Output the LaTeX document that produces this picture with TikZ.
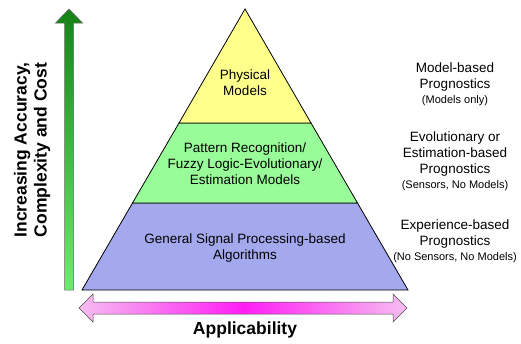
\documentclass[tikz,border=0pt]{standalone}
\usepackage{fontspec}
\setmainfont{Liberation Sans}
\setsansfont{Liberation Sans}
\usepackage{xcolor}
\usetikzlibrary{positioning, calc}

\definecolor{lvlyellow}{RGB}{255,255,140}
\definecolor{lvlgreen}{RGB}{152,252,152}
\definecolor{lvlblue}{RGB}{164,168,236}
\definecolor{arrdark}{RGB}{22,130,22}
\definecolor{arrlight}{RGB}{110,235,110}
\definecolor{pinklight}{RGB}{246,190,240}
\definecolor{pinkhot}{RGB}{255,30,245}

\tikzset{
  level/.style={draw=black, line width=0.8pt, line join=miter},
  lbl/.style={align=center, font=\sffamily\fontsize{13.5}{16}\selectfont},
  side/.style={align=center, font=\sffamily\fontsize{13.5}{16}\selectfont},
  axis/.style={align=center, font=\sffamily\bfseries\fontsize{17.5}{20}\selectfont}
}
\newcommand{\smallnote}[1]{{\fontsize{11}{13}\selectfont #1}}

\begin{document}
\begin{tikzpicture}[x=1pt, y=-1pt]
    \useasboundingbox (0,0) rectangle (521,343);
    % pyramid levels
    \draw[level, fill=lvlblue] (82,290) -- (408,290) -- (357.5,203) -- (132.5,203) -- cycle;
    \draw[level, fill=lvlgreen] (132.5,203) -- (357.5,203) -- (311,123) -- (179,123) -- cycle;
    \draw[level, fill=lvlyellow] (179,123) -- (311,123) -- (245,9) -- cycle;
    \node[lbl] (phys) at (245,83) {Physical\\Models};
    \node[lbl] (pattern) at (245,164) {Pattern Recognition/\\Fuzzy Logic-Evolutionary/\\Estimation Models};
    \node[lbl] (signal) at (245,248) {General Signal Processing-based\\Algorithms};
    % prognostics types
    \node[side] (modelbased) at (455,84) {Model-based\\Prognostics\\[-1pt]\smallnote{(Models only)}};
    \node[side] (evolbased) at (455,161) {Evolutionary or\\Estimation-based\\Prognostics\\[-1pt]\smallnote{(Sensors, No Models)}};
    \node[side] (expbased) at (455,241) {Experience-based\\Prognostics\\[-1pt]\smallnote{(No Sensors, No Models)}};
    % accuracy arrow
    \draw[draw=black!60, line width=0.5pt, top color=arrdark, bottom color=arrlight]
      (64.5,290) -- (64.5,23) -- (55.5,23) -- (69,9) -- (82.5,23) -- (73.5,23) -- (73.5,290) -- cycle;
    \node[axis, rotate=90] (accuracy) at (32,150) {Increasing Accuracy,\\Complexity and Cost};
    % applicability arrow
    \draw[draw=black!70, line width=0.5pt, left color=pinklight, right color=pinklight, middle color=pinkhot]
      (79,308) -- (93,294) -- (93,302) -- (393,302) -- (393,294) -- (407,308)
      -- (393,322) -- (393,314) -- (93,314) -- (93,322) -- cycle;
    \node[axis] (applic) at (245,330) {Applicability};
\end{tikzpicture}
\end{document}
